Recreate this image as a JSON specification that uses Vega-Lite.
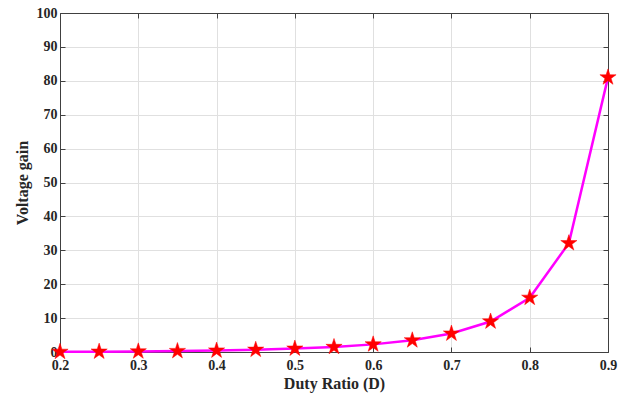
{
  "$schema": "https://vega.github.io/schema/vega-lite/v6.json",
  "width": 548,
  "height": 339,
  "autosize": {"type": "none"},
  "padding": {"left": 60, "top": 13, "right": 16, "bottom": 44},
  "background": "white",
  "config": {
    "view": {"stroke": "#404040", "strokeWidth": 1},
    "font": "Liberation Serif",
    "axis": {
      "labelFont": "Liberation Serif",
      "labelFontWeight": "bold",
      "labelFontSize": 14,
      "labelColor": "#262626",
      "titleFont": "Liberation Serif",
      "titleFontWeight": "bold",
      "titleFontSize": 16,
      "titleColor": "#262626",
      "domainColor": "#404040",
      "tickColor": "#404040",
      "gridColor": "#e0e0e0",
      "gridWidth": 1
    }
  },
  "data": {
    "values": [
      {"D": 0.2, "gain": 0.06},
      {"D": 0.25, "gain": 0.11},
      {"D": 0.3, "gain": 0.18},
      {"D": 0.35, "gain": 0.29},
      {"D": 0.4, "gain": 0.44},
      {"D": 0.45, "gain": 0.67},
      {"D": 0.5, "gain": 1.0},
      {"D": 0.55, "gain": 1.49},
      {"D": 0.6, "gain": 2.25},
      {"D": 0.65, "gain": 3.45},
      {"D": 0.7, "gain": 5.44},
      {"D": 0.75, "gain": 9.0},
      {"D": 0.8, "gain": 16.0},
      {"D": 0.85, "gain": 32.1},
      {"D": 0.9, "gain": 81.0}
    ]
  },
  "layer": [
    {
      "mark": {"type": "line", "color": "#ff00ff", "strokeWidth": 2.5, "clip": false},
      "encoding": {
        "x": {
          "field": "D", "type": "quantitative",
          "scale": {"domain": [0.2, 0.9], "nice": false, "zero": false},
          "axis": {
            "orient": "bottom",
            "title": "Duty Ratio (D)",
            "values": [0.2, 0.3, 0.4, 0.5, 0.6, 0.7, 0.8, 0.9],
            "format": ".1f",
            "tickSize": -5,
            "labelPadding": 11,
            "titlePadding": 3,
            "grid": true,
            "labelFlush": false
          }
        },
        "y": {
          "field": "gain", "type": "quantitative",
          "scale": {"domain": [0, 100], "nice": false},
          "axis": {
            "orient": "left",
            "title": "Voltage gain",
            "values": [0, 10, 20, 30, 40, 50, 60, 70, 80, 90, 100],
            "tickSize": -5,
            "labelPadding": 8,
            "titlePadding": 6,
            "grid": true,
            "labelFlush": false
          }
        }
      }
    },
    {
      "mark": {"type": "point", "opacity": 0},
      "encoding": {
        "x": {
          "field": "D", "type": "quantitative",
          "axis": {"orient": "top", "values": [0.2, 0.3, 0.4, 0.5, 0.6, 0.7, 0.8, 0.9], "labels": false, "title": null, "tickSize": -5, "grid": false}
        },
        "y": {
          "field": "gain", "type": "quantitative",
          "axis": {"orient": "right", "values": [0, 10, 20, 30, 40, 50, 60, 70, 80, 90, 100], "labels": false, "title": null, "tickSize": -5, "grid": false}
        }
      }
    },
    {
      "mark": {"type": "point", "shape": "M0,-1L0.2245,-0.309L0.951,-0.309L0.3633,0.118L0.588,0.809L0,0.382L-0.588,0.809L-0.3633,0.118L-0.951,-0.309L-0.2245,-0.309Z", "filled": true, "fill": "#ff0000", "stroke": "#ff0000", "strokeWidth": 0.5, "size": 290, "opacity": 1, "clip": false},
      "encoding": {
        "x": {"field": "D", "type": "quantitative", "axis": null},
        "y": {"field": "gain", "type": "quantitative", "axis": null}
      }
    }
  ],
  "resolve": {"axis": {"x": "independent", "y": "independent"}}
}
